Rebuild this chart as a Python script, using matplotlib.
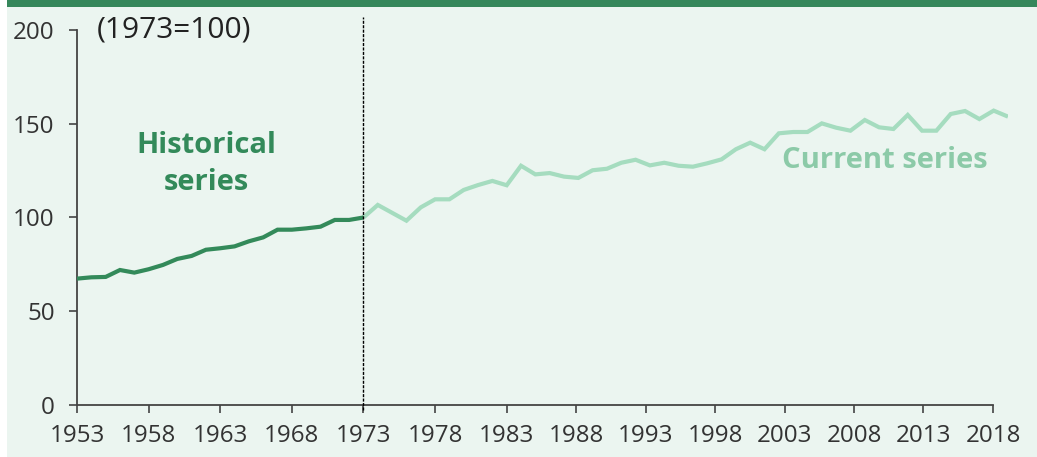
import matplotlib
matplotlib.use("Agg")
import matplotlib.pyplot as plt
from matplotlib.patches import Rectangle

plt.rcParams['font.family'] = ['Open Sans', 'DejaVu Sans']

hist_years = list(range(1953, 1974))
hist_values = [67.4, 68.1, 68.3, 72.0, 70.6, 72.4, 74.7, 77.9, 79.5, 82.8, 83.6,
               84.6, 87.3, 89.4, 93.5, 93.5, 94.2, 95.1, 98.7, 98.7, 100.0]

curr_years = list(range(1973, 2019))
curr_values = [100.0, 106.7, 102.5, 98.3, 105.4, 109.7, 109.7, 114.7, 117.3, 119.5,
               117.2, 127.6, 123.0, 123.7, 121.8, 121.1, 125.2, 126.0, 129.2, 130.8,
               127.8, 129.2, 127.6, 127.1, 128.9, 131.0, 136.4, 139.9, 136.4, 144.9,
               145.6, 145.6, 150.2, 147.9, 146.3, 152.0, 148.1, 147.2, 154.7, 146.3,
               146.3, 155.2, 156.8, 152.5, 157.0, 153.8]

tick_labels = [str(y) for y in range(1953, 2019, 5)]
y_ticks = [0, 50, 100, 150, 200]

W, H = 1037, 457
fig = plt.figure(figsize=(W / 100, H / 100), dpi=100)
fig.patch.set_facecolor('white')
fig.add_artist(Rectangle((7 / W, 0), 1 - 7 / W, 1 - 7 / H, transform=fig.transFigure,
                         facecolor='#ebf5f0', edgecolor='none', zorder=0))
fig.add_artist(Rectangle((7 / W, 1 - 7 / H), 1 - 7 / W, 7 / H, transform=fig.transFigure,
                         facecolor='#35875b', edgecolor='none', zorder=0))

ax = fig.add_axes([77 / W, 52 / H, (1008 - 77) / W, 375 / H])
ax.set_facecolor('none')

ax.plot(hist_years, hist_values, color='#338a5a', lw=3.0, solid_capstyle='butt',
        solid_joinstyle='miter', zorder=3)
ax.plot(curr_years, curr_values, color='#a5dcbf', lw=3.0, solid_capstyle='butt',
        solid_joinstyle='miter', zorder=2)

ax.plot([1973, 1973], [-2.7, 207], color='black', lw=1.0, ls=(0, (2.2, 1.0)),
        clip_on=False, zorder=4)

ax.set_xlim(1953, 2018)
ax.set_ylim(0, 200)


def tick_pos(y):
    return y if y <= 1983 else 1983 + (y - 1983) * 0.97


tick_positions = [tick_pos(int(t)) for t in tick_labels]
ax.set_xticks(tick_positions)
ax.set_xticklabels(tick_labels)
ax.set_yticks(y_ticks)

for s in ['top', 'right']:
    ax.spines[s].set_visible(False)
for s in ['left', 'bottom']:
    ax.spines[s].set_color('#444444')
    ax.spines[s].set_linewidth(1.3)
ax.spines['bottom'].set_bounds(1953, tick_positions[-1])

ax.tick_params(axis='both', colors='#444444', length=6, width=1.2,
               labelsize=17.4, labelcolor='#333333', direction='out')
ax.tick_params(axis='y', pad=10)
ax.tick_params(axis='x', pad=7.5)

ax.text(1954.4, 200, '(1973=100)', fontsize=21.5, color='#222222', ha='left',
        va='center')
ax.text(1962.0, 128.5, 'Historical\nseries', fontsize=21, fontweight='bold',
        color='#338a5a', ha='center', va='center', linespacing=1.38)
ax.text(2009.4, 130.3, 'Current series', fontsize=21, fontweight='bold',
        color='#8ccaa8', ha='center', va='center')

fig.savefig('out.png', dpi=100, facecolor=fig.get_facecolor())
